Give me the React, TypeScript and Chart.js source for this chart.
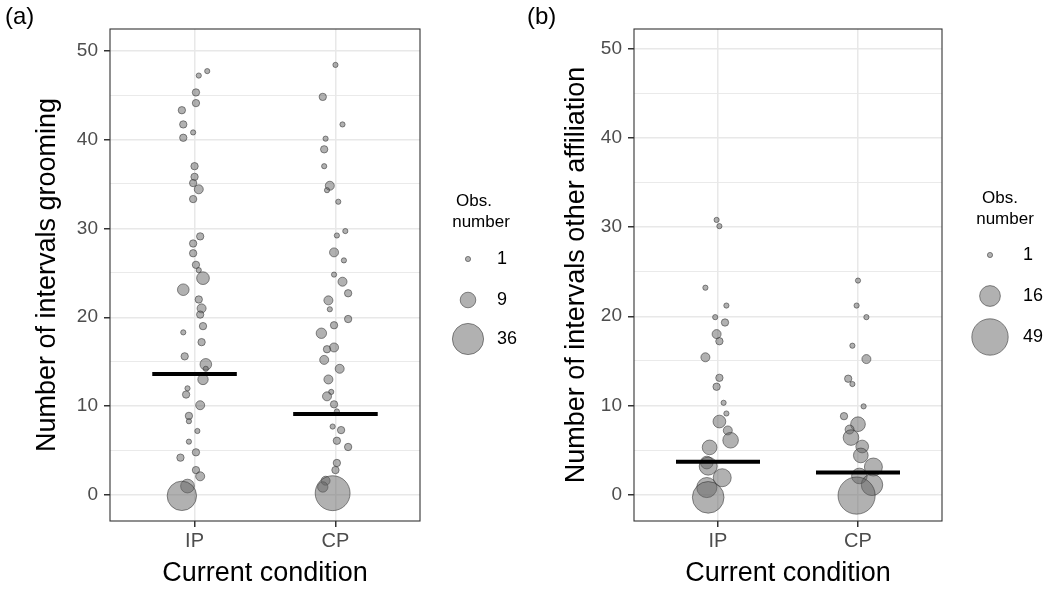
import React, { useEffect, useRef } from "react";
import { Chart, registerables } from "chart.js";
Chart.register(...registerables);

const categories = ["IP", "CP"];
const yMajorTicks = [0, 10, 20, 30, 40, 50];
const yMinorTicks = [5, 15, 25, 35, 45];

// Panel (a): grooming
const groomIP_y = [47.7, 47.2, 45.3, 44.1, 43.3, 41.7, 40.8, 40.2, 37.0, 35.8, 35.1, 34.4, 33.3, 29.1, 28.3, 27.2, 25.9, 25.3, 24.4, 23.1, 22.0, 21.0, 20.3, 19.0, 18.3, 17.2, 15.6, 14.7, 14.2, 13.0, 12.0, 11.3, 10.1, 8.9, 8.3, 7.2, 6.0, 4.8, 4.2, 2.8, 2.1, 1.0, -0.1];
const groomIP_dx = [0.09, 0.03, 0.01, 0.01, -0.09, -0.08, -0.01, -0.08, 0, 0, -0.01, 0.03, -0.01, 0.04, -0.01, -0.01, 0.01, 0.03, 0.06, -0.08, 0.03, 0.05, 0.04, 0.06, -0.08, 0.05, -0.07, 0.08, 0.08, 0.06, -0.05, -0.06, 0.04, -0.04, -0.04, 0.02, -0.04, 0.01, -0.1, 0.01, 0.04, -0.05, -0.09];
const groomIP_n = [1, 1, 2, 2, 2, 2, 1, 2, 2, 2, 2, 3, 2, 2, 2, 2, 2, 1, 6, 5, 2, 3, 2, 2, 1, 2, 2, 5, 1, 4, 1, 2, 3, 2, 1, 1, 1, 2, 2, 2, 3, 7, 32];

const groomCP_y = [48.4, 44.8, 41.7, 40.1, 38.9, 37.0, 34.8, 34.3, 33.0, 29.7, 29.2, 27.3, 26.4, 24.8, 24.0, 22.7, 21.9, 20.9, 19.8, 19.1, 18.2, 16.6, 16.4, 15.2, 14.2, 13.0, 11.6, 11.1, 10.2, 9.4, 7.7, 7.3, 6.1, 5.4, 3.6, 2.8, 1.6, 0.9, 0.2];
const groomCP_dx = [0, -0.09, 0.05, -0.07, -0.08, -0.08, -0.04, -0.06, 0.02, 0.07, 0.01, -0.01, 0.06, -0.01, 0.05, 0.09, -0.05, -0.04, 0.09, -0.01, -0.1, -0.01, -0.06, -0.08, 0.03, -0.05, -0.03, -0.06, -0.01, 0.01, -0.02, 0.04, 0.01, 0.09, 0.01, 0, -0.07, -0.09, -0.02];
const groomCP_n = [1, 2, 1, 1, 2, 1, 3, 1, 1, 1, 1, 3, 1, 1, 3, 2, 3, 1, 2, 2, 4, 3, 2, 3, 3, 3, 1, 3, 2, 1, 1, 2, 2, 2, 2, 2, 3, 4, 45];

const groomMeans = [13.6, 9.1];
const groomLegend = [1, 9, 36];

// Panel (b): other affiliation
const affilIP_y = [30.8, 30.1, 23.2, 21.2, 19.9, 19.3, 18.0, 17.2, 15.4, 13.1, 12.1, 10.3, 9.1, 8.2, 7.2, 6.1, 5.3, 3.6, 3.2, 1.9, 0.8, -0.3];
const affilIP_dx = [-0.01, 0.01, -0.09, 0.06, -0.02, 0.05, -0.01, 0.01, -0.09, 0.01, -0.01, 0.04, 0.06, 0.01, 0.07, 0.09, -0.06, -0.08, -0.07, 0.03, -0.08, -0.07];
const affilIP_n = [1, 1, 1, 1, 1, 2, 3, 2, 3, 2, 2, 1, 1, 6, 3, 9, 8, 6, 12, 12, 15, 37];

const affilCP_y = [24.0, 21.2, 19.9, 16.7, 15.2, 13.0, 12.4, 9.9, 8.8, 7.9, 7.3, 6.4, 5.4, 4.4, 3.1, 2.1, 1.1, -0.1];
const affilCP_dx = [0, -0.01, 0.06, -0.04, 0.06, -0.07, -0.04, 0.04, -0.1, 0, -0.06, -0.05, 0.03, 0.02, 0.11, 0.01, 0.1, -0.01];
const affilCP_n = [1, 1, 1, 1, 3, 2, 1, 1, 2, 8, 3, 9, 6, 8, 12, 9, 17, 51];

const affilMeans = [3.7, 2.5];
const affilLegend = [1, 16, 49];

const FONT = "'Liberation Sans', Arial, sans-serif";
const FILL = "rgba(100,100,100,0.5)";
const EDGE = "rgba(50,50,50,0.55)";
const radius = (n: number) => 2.6 * Math.sqrt(n);

function bubbles(cat: number, ys: number[], dxs: number[], ns: number[]) {
  return ys.map((y, i) => ({ x: cat + 1 + dxs[i], y, r: radius(ns[i]) }));
}

function meanLine(means: number[]) {
  const pts: any[] = [];
  means.forEach((m, i) => {
    pts.push({ x: i + 1 - 0.3, y: m }, { x: i + 1 + 0.3, y: m });
    if (i < means.length - 1) pts.push({ x: i + 1.5, y: null });
  });
  return pts;
}

const panels = [
  {
    label: "(a)", labelX: 5,
    yTitle: "Number of intervals grooming",
    groups: [
      { y: groomIP_y, dx: groomIP_dx, n: groomIP_n },
      { y: groomCP_y, dx: groomCP_dx, n: groomCP_n },
    ],
    means: groomMeans, legend: groomLegend,
    yMin: -2.93, yMax: 52.44, axisW: 110, padRight: 105, yTitlePad: 31.8,
    legendX: 468, legendLabelX: 497, legendYs: [259, 300, 339],
    titleXs: [474, 481], titleYs: [201, 222], left: 0,
  },
  {
    label: "(b)", labelX: 2,
    yTitle: "Number of intervals other affiliation",
    groups: [
      { y: affilIP_y, dx: affilIP_dx, n: affilIP_n },
      { y: affilCP_y, dx: affilCP_dx, n: affilCP_n },
    ],
    means: affilMeans, legend: affilLegend,
    yMin: -2.95, yMax: 52.2, axisW: 109, padRight: 108, yTitlePad: 35.8,
    legendX: 465, legendLabelX: 498, legendYs: [255, 296, 337],
    titleXs: [475, 480], titleYs: [198, 219], left: 525,
  },
];

function Panel({ p }: { p: any }) {
  const ref = useRef<HTMLCanvasElement | null>(null);
  useEffect(() => {
    if (!ref.current) return;
    const extras = {
      id: "extras",
      afterDatasetsDraw(chart: any) {
        const { ctx, chartArea: a } = chart;
        ctx.save();
        ctx.strokeStyle = "#333333";
        ctx.lineWidth = 1.1;
        ctx.strokeRect(a.left, a.top, a.right - a.left, a.bottom - a.top);
        ctx.restore();
      },
      afterDraw(chart: any) {
        const { ctx } = chart;
        ctx.save();
        ctx.fillStyle = "#000";
        ctx.textBaseline = "middle";
        ctx.textAlign = "left";
        ctx.font = `24px ${FONT}`;
        ctx.fillText(p.label, p.labelX, 17);
        ctx.textAlign = "center";
        ctx.font = `17px ${FONT}`;
        ctx.fillText("Obs.", p.titleXs[0], p.titleYs[0]);
        ctx.fillText("number", p.titleXs[1], p.titleYs[1]);
        p.legend.forEach((n: number, i: number) => {
          ctx.beginPath();
          ctx.arc(p.legendX, p.legendYs[i], radius(n), 0, Math.PI * 2);
          ctx.fillStyle = FILL;
          ctx.fill();
          ctx.strokeStyle = EDGE;
          ctx.lineWidth = 1;
          ctx.stroke();
          ctx.fillStyle = "#000";
          ctx.textAlign = "left";
          ctx.font = `18px ${FONT}`;
          ctx.fillText(String(n), p.legendLabelX, p.legendYs[i]);
        });
        ctx.restore();
      },
    };
    const datasets: any[] = [
      {
        type: "line",
        data: meanLine(p.means),
        borderColor: "#000",
        borderWidth: 4,
        borderCapStyle: "butt",
        pointRadius: 0,
        spanGaps: false,
        order: 0,
      },
      ...p.groups.map((g: any, ci: number) => ({
        type: "bubble",
        data: bubbles(ci, g.y, g.dx, g.n),
        backgroundColor: FILL,
        borderColor: EDGE,
        borderWidth: 1,
        order: 1,
      })),
    ];
    const chart = new Chart(ref.current, {
      type: "bubble",
      data: { datasets },
      plugins: [extras],
      options: {
        responsive: false,
        animation: false,
        events: [],
        layout: { padding: { top: 29, right: p.padRight, left: 0, bottom: 0 } },
        plugins: { legend: { display: false }, tooltip: { enabled: false } },
        scales: {
          x: {
            type: "linear",
            min: 0.4,
            max: 2.6,
            afterBuildTicks: (s: any) => {
              s.ticks = categories.map((_, i) => ({ value: i + 1 }));
            },
            afterFit: (s: any) => {
              s.height = 70;
            },
            ticks: {
              callback: (v: any) => categories[Math.round(v) - 1] ?? "",
              font: { family: FONT, size: 20 },
              color: "#4d4d4d",
              padding: 2,
              maxRotation: 0,
              autoSkip: false,
            },
            grid: {
              color: "#e8e8e8",
              lineWidth: 1.5,
              tickColor: "#333333",
              tickLength: 6,
              tickWidth: 1.5,
            },
            border: { display: false },
            title: {
              display: true,
              text: "Current condition",
              font: { family: FONT, size: 27 },
              color: "#000",
              padding: { top: 0, bottom: 0.8 },
            },
          },
          y: {
            type: "linear",
            min: p.yMin,
            max: p.yMax,
            afterBuildTicks: (s: any) => {
              s.ticks = [...yMajorTicks, ...yMinorTicks]
                .sort((a, b) => a - b)
                .map((v) => ({ value: v }));
            },
            afterFit: (s: any) => {
              s.width = p.axisW;
            },
            ticks: {
              callback: (v: any) => (yMajorTicks.includes(v) ? String(v) : ""),
              font: { family: FONT, size: 19 },
              color: "#4d4d4d",
              padding: 6,
              autoSkip: false,
            },
            grid: {
              color: "#e8e8e8",
              lineWidth: (c: any) => (yMajorTicks.includes(c.tick?.value) ? 1.5 : 0.9),
              tickColor: (c: any) => (yMajorTicks.includes(c.tick?.value) ? "#333333" : "rgba(0,0,0,0)"),
              tickLength: 6,
              tickWidth: 1.5,
            },
            border: { display: false },
            title: {
              display: true,
              text: p.yTitle,
              font: { family: FONT, size: 27 },
              color: "#000",
              padding: { top: p.yTitlePad, bottom: 0 },
            },
          },
        },
      } as any,
    });
    return () => chart.destroy();
  }, []);
  return (
    <canvas
      ref={ref}
      width={525}
      height={591}
      style={{ position: "absolute", left: p.left, top: 0, width: 525, height: 591 }}
    />
  );
}

export default function App() {
  return (
    <div style={{ position: "absolute", left: 0, top: 0, width: 1050, height: 591, background: "#fff" }}>
      {panels.map((p, i) => (
        <Panel key={i} p={p} />
      ))}
    </div>
  );
}
